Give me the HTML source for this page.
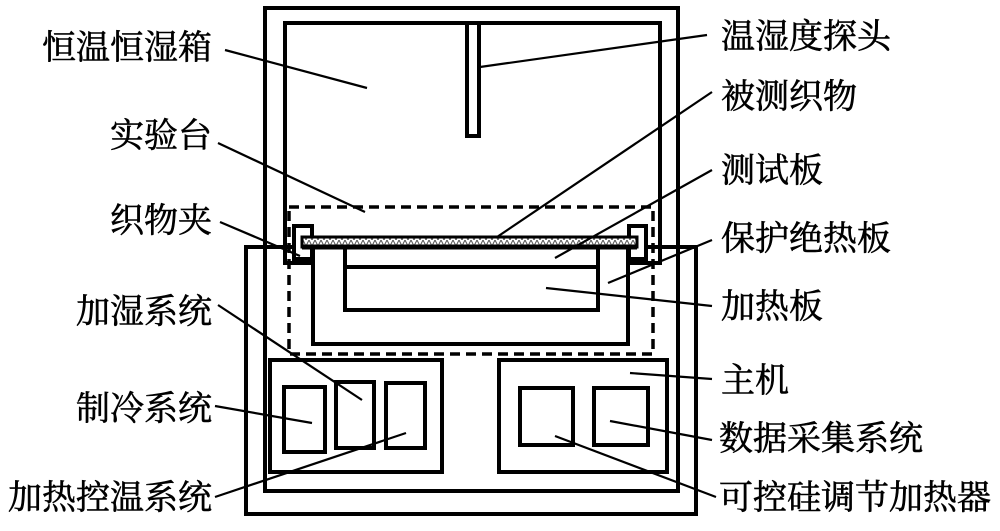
<!DOCTYPE html>
<html><head><meta charset="utf-8"><style>
html,body{margin:0;padding:0;background:#fff;}
svg{display:block;}
text{font-family:"Liberation Serif","Noto Serif CJK SC","Noto Sans CJK SC",serif;font-size:34px;fill:#000;stroke:#000;stroke-width:0.6;}
</style></head><body>
<svg width="1000" height="531" viewBox="0 0 1000 531" xmlns="http://www.w3.org/2000/svg">
<defs>
<pattern id="h" width="6" height="6" patternUnits="userSpaceOnUse">
<rect width="6" height="6" fill="#fff"/>
<path d="M0 6 L3 0 L6 6" stroke="#555" stroke-width="1" fill="none"/>
</pattern>
</defs>
<g fill="none" stroke="#000" stroke-width="4">
<rect x="265" y="8" width="413" height="483"/>
<rect x="285" y="23" width="375" height="240"/>
<rect x="467" y="23" width="12" height="113" fill="#fff"/>
<rect x="246" y="247" width="450" height="267" fill="none"/>
<line x1="265" y1="247" x2="265" y2="491"/>
<line x1="678" y1="247" x2="678" y2="491"/>
<line x1="265" y1="491" x2="678" y2="491"/>
<rect x="289" y="207" width="364" height="147" stroke-dasharray="10,6" stroke-width="3.5"/>
<rect x="313" y="247" width="315" height="97" fill="#fff"/>
<rect x="345" y="247" width="253" height="63"/>
<line x1="345" y1="267" x2="598" y2="267"/>
<rect x="294" y="226" width="18" height="33" fill="#fff"/>
<rect x="629" y="226" width="17" height="33" fill="#fff"/>
<rect x="302" y="237" width="335" height="10" fill="url(#h)" stroke-width="3"/>
<line x1="302" y1="247" x2="637" y2="247" stroke-width="5"/>
<rect x="270" y="360" width="172" height="112"/>
<rect x="284" y="387" width="41" height="65"/>
<rect x="336" y="382" width="38" height="66"/>
<rect x="386" y="383" width="39" height="65"/>
<rect x="499" y="360" width="168" height="112"/>
<rect x="520" y="388" width="53" height="57"/>
<rect x="594" y="388" width="54" height="57"/>
</g>
<g stroke="#000" stroke-width="2.2">
<line x1="225" y1="50" x2="367" y2="88"/>
<line x1="480" y1="67" x2="707" y2="35"/>
<line x1="497" y1="237" x2="712" y2="92"/>
<line x1="218" y1="143" x2="365" y2="212"/>
<line x1="555" y1="258" x2="712" y2="170"/>
<line x1="220" y1="222" x2="300" y2="256"/>
<line x1="608" y1="283" x2="712" y2="240"/>
<line x1="546" y1="288" x2="712" y2="306"/>
<line x1="218" y1="305" x2="362" y2="400"/>
<line x1="630" y1="373" x2="712" y2="379"/>
<line x1="215" y1="406" x2="312" y2="423"/>
<line x1="610" y1="421" x2="712" y2="440"/>
<line x1="215" y1="497" x2="406" y2="433"/>
<line x1="555" y1="436" x2="716" y2="497"/>
</g>
<g text-anchor="end">
<text x="212" y="59">恒温恒湿箱</text>
<text x="212" y="147">实验台</text>
<text x="212" y="232">织物夹</text>
<text x="212" y="323">加湿系统</text>
<text x="212" y="420">制冷系统</text>
<text x="212" y="509">加热控温系统</text>
</g>
<g>
<text x="721" y="48">温湿度探头</text>
<text x="721" y="108">被测织物</text>
<text x="721" y="182">测试板</text>
<text x="721" y="250">保护绝热板</text>
<text x="721" y="318">加热板</text>
<text x="721" y="392">主机</text>
<text x="719" y="450">数据采集系统</text>
<text x="719" y="509">可控硅调节加热器</text>
</g>
</svg>
</body></html>
